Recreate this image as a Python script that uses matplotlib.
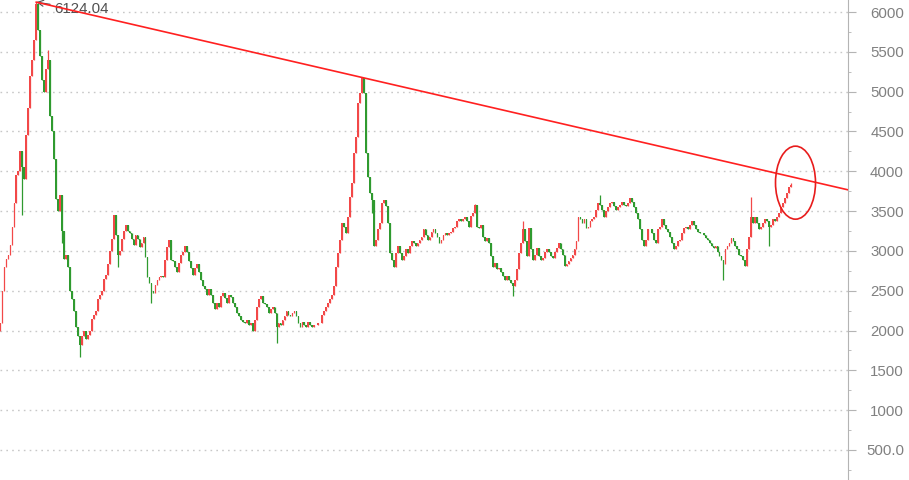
import matplotlib
matplotlib.use("Agg")
import matplotlib.pyplot as plt
from matplotlib.patches import Ellipse
import numpy as np

plt.rcParams['font.family'] = ['Liberation Sans', 'DejaVu Sans']

# closing levels, left to right
closes = [
    2100, 2500, 2800, 2900, 2950, 3070, 3300, 3600, 3950, 4000, 4250, 4050, 3900, 4450, 4800,
    5200, 5400, 5650, 6100,
    5780, 5450, 5150, 5000, 5280, 5400, 4700, 4500, 4150, 3650, 3500, 3700, 3250, 2900, 2950,
    2800, 2500, 2400, 2250, 2050, 1930, 1820, 1930, 2000, 1900, 1950, 2000, 2150, 2200, 2250,
    2400, 2450, 2500, 2650, 2700, 2830, 3000, 3150, 3450, 3200, 2950, 3000, 3150, 3250, 3330,
    3250, 3230, 3150, 3080, 3200, 3150,
    3050, 3100, 3170, 2920, 2670, 2600, 2500, 2470, 2570, 2640, 2670, 2680, 2670, 2890, 3050,
    3140, 2890, 2870, 2800, 2730, 2850, 2950, 2990, 3060, 2990, 2870, 2790, 2700, 2790, 2830,
    2730, 2640, 2560, 2520, 2450, 2520, 2450, 2350, 2270, 2350, 2300, 2430, 2470, 2410, 2350,
    2450, 2420, 2350, 2290, 2220, 2180, 2130, 2110, 2100, 2130, 2070, 2100, 2000, 2130, 2300,
    2390, 2430,
    2350, 2330, 2290, 2220, 2270, 2300, 2220, 2050, 2090, 2070, 2130, 2180, 2240, 2200, 2180,
    2220, 2240, 2180, 2100, 2050, 2110, 2070, 2050, 2110, 2070, 2050, 2070, 2070, 2100, 2090,
    2200, 2240, 2290, 2350, 2390, 2450, 2560, 2800, 2980, 3140, 3350, 3300, 3230, 3430, 3680,
    3850,
    4230, 4430, 4860, 4980, 5170, 4980, 4230, 3930, 3730, 3640, 3060, 3140, 3270, 3350, 3600,
    3640, 3560, 3350, 2980, 2890, 2800, 2980, 3060, 2980, 2890, 2930, 3020, 2980, 3060, 3120,
    3100, 3060, 3100, 3140, 3180, 3270, 3200, 3140, 3180, 3240, 3270, 3230, 3180, 3100, 3140,
    3200, 3230,
    3200, 3230, 3240, 3290, 3300, 3370, 3400, 3370, 3400, 3420, 3370, 3300, 3440, 3480, 3580,
    3300, 3290, 3330, 3180, 3120, 3160, 3100, 2930, 2800, 2850, 2770, 2790, 2740, 2680, 2640,
    2680, 2640, 2600, 2560, 2640, 2770, 2980, 3100, 3270, 3120, 2930,
    3290, 3020, 2890, 2950, 3040, 2930, 2890, 2910, 2990, 3020, 2990, 2930, 2910, 2990, 3040,
    3100, 3020, 2950, 2810, 2830, 2870, 2910, 2950, 3020, 3120, 3430, 3400, 3350, 3400, 3290,
    3300, 3370, 3400, 3430, 3520, 3600, 3580, 3520, 3430, 3500, 3550, 3600, 3620, 3560, 3520,
    3550, 3580, 3620, 3580, 3560, 3600, 3670, 3620, 3550, 3480, 3400, 3270, 3140, 3060, 3140,
    3270,
    3270, 3230, 3140, 3100, 3270, 3300, 3400, 3330, 3270, 3240, 3180, 3100, 3020, 3060, 3120,
    3140, 3230, 3290, 3300, 3270, 3330, 3370, 3330, 3270, 3240, 3230, 3230, 3200, 3160, 3140,
    3100, 3060, 3040, 3060, 2990, 2930, 2890, 2830, 3020, 3060, 3100, 3160, 3120, 3060, 3020,
    2950, 2930, 2890, 2810, 3020, 3180, 3430, 3350, 3430, 3350, 3270, 3300, 3350, 3400, 3370,
    3300, 3330, 3400, 3370, 3420, 3480, 3550, 3600, 3670, 3730, 3800, 3830,
]
first_open = 2000

# notable wick extremes (candle index, level)
wick_highs = [(18, 6124.04), (182, 5178.19), (239, 3587), (378, 3674),
              (24, 5520), (263, 3380), (302, 3700), (398, 3850)]
wick_lows = [(40, 1664), (139, 1849), (258, 2440), (364, 2635),
             (11, 3450), (31, 3100), (59, 2800), (76, 2350), (187, 3480), (387, 3060)]

peak_label = "6124.04"
ytick_values = [500, 1000, 1500, 2000, 2500, 3000, 3500, 4000, 4500, 5000, 5500, 6000]
ytick_labels = ["500.0", "1000", "1500", "2000", "2500", "3000", "3500", "4000", "4500",
                "5000", "5500", "6000"]

closes = np.array(closes, dtype=float)
opens = np.concatenate([[first_open], closes[:-1]])
highs = np.maximum(opens, closes)
lows = np.minimum(opens, closes)
for i, v in wick_highs:
    highs[i] = max(highs[i], v)
for i, v in wick_lows:
    lows[i] = min(lows[i], v)

n = len(closes)
idx = np.arange(n)
up = closes >= opens
colors = np.where(up, "#f24848", "#2f9a2f")

W, H = 909, 480
fig = plt.figure(figsize=(W / 100, H / 100), dpi=100)
ax = fig.add_axes([0, 0, 848 / W, 1])

# candles
ax.vlines(idx, lows, highs, colors=colors, linewidth=0.9, zorder=3)
ax.bar(idx, closes - opens, bottom=opens, width=0.9, color=colors, linewidth=0, zorder=3)

# x scale: first candle near left edge, last candle around px 791
px_per = 790.5 / (n - 1)
xmin = -0.5 / px_per
xmax = xmin + 848 / px_per
ax.set_xlim(xmin, xmax)
ax.set_ylim(123, 6151)

# trend line through the two tops
(i1, h1), (i2, h2) = wick_highs[0], wick_highs[1]
slope = (h2 - h1) / (i2 - i1)
xs = np.array([i1, xmax])
ax.plot(xs, h1 + slope * (xs - i1), color="#ff2020", linewidth=1.2, zorder=4)

ax.annotate(peak_label, xy=(i1, h1), xytext=(13, -5), textcoords="offset points",
            fontsize=10.8, color="#505050", va="center", ha="left",
            arrowprops=dict(arrowstyle="->", color="#505050", lw=0.8,
                            shrinkA=1, shrinkB=0))

# circle around the latest candles
ax.add_patch(Ellipse((n - 1 + 4.5 / px_per, 3857), 40 / px_per, 917,
                     fill=False, edgecolor="#e81c1c", linewidth=1.2, zorder=5))

# axis styling
for s in ["left", "top", "bottom"]:
    ax.spines[s].set_visible(False)
ax.spines["right"].set_color("#b4b4b4")
ax.set_xticks([])
ax.yaxis.tick_right()
ax.set_yticks(ytick_values)
ax.set_yticklabels(ytick_labels)
ax.set_yticks(np.arange(250, 6150, 500), minor=True)
ax.tick_params(axis="y", which="major", length=5.8, color="#b4b4b4",
               labelcolor="#808080", labelsize=10.8, pad=34.5)
ax.tick_params(axis="y", which="minor", length=2.5, color="#b4b4b4")
for lab in ax.get_yticklabels():
    lab.set_horizontalalignment("right")
ax.grid(axis="y", which="major", color="#c8c8c8", linestyle=(0, (1.2, 3)), linewidth=1)
ax.set_axisbelow(True)
ax.set_facecolor("white")

fig.savefig("out.png", dpi=100)
